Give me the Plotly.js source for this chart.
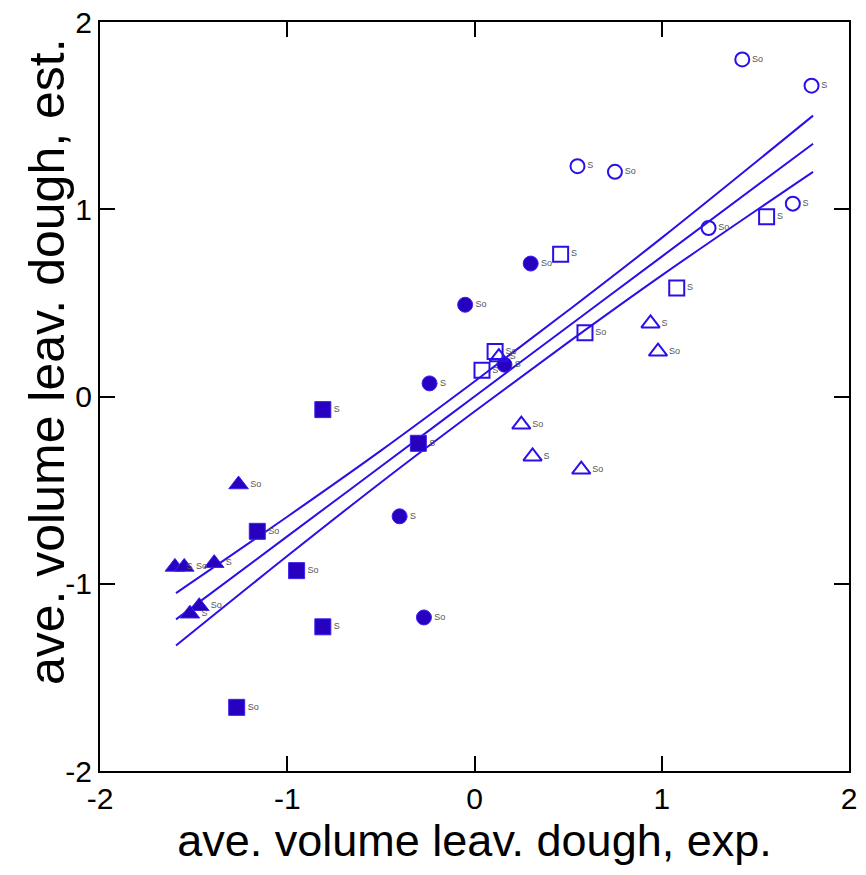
<!DOCTYPE html>
<html>
<head>
<meta charset="utf-8">
<script src="https://cdn.plot.ly/plotly-3.0.1.min.js"></script>
<style>html,body{margin:0;padding:0;background:#fff;}#chart{width:866px;height:875px;}</style>
</head>
<body>
<div id="chart"></div>
<script>
// filled circles
const fcX = [0.30, -0.05, -0.24, 0.16, -0.40, -0.27];
const fcY = [0.71, 0.49, 0.07, 0.17, -0.64, -1.18];
const fcL = ["So", "So", "S", "S", "S", "So"];
// filled squares
const fsX = [-0.81, -0.30, -1.16, -0.95, -0.81, -1.27];
const fsY = [-0.07, -0.25, -0.72, -0.93, -1.23, -1.66];
const fsL = ["S", "S", "So", "So", "S", "So"];
// filled triangles
const ftX = [-1.26, -1.60, -1.55, -1.39, -1.47, -1.52];
const ftY = [-0.47, -0.91, -0.91, -0.89, -1.12, -1.16];
const ftL = ["So", "S", "So", "S", "So", "S"];
// open squares
const osX = [0.46, 1.56, 1.08, 0.59, 0.11, 0.04];
const osY = [0.76, 0.96, 0.58, 0.34, 0.24, 0.14];
const osL = ["S", "S", "S", "So", "So", "S"];
// open triangles
const otX = [0.13, 0.94, 0.98, 0.25, 0.31, 0.57];
const otY = [0.21, 0.39, 0.24, -0.15, -0.32, -0.39];
const otL = ["S", "S", "So", "So", "S", "So"];
// open circles
const ocX = [1.43, 1.80, 0.55, 0.75, 1.25, 1.70];
const ocY = [1.80, 1.66, 1.23, 1.20, 0.90, 1.03];
const ocL = ["So", "S", "S", "So", "So", "S"];
// regression line and confidence bands
const lineX = [-1.594, -1.0, -0.5, 0.0, 0.5, 1.0, 1.808];
const fitY = [-1.19, -0.747, -0.374, 0.0, 0.374, 0.747, 1.35];
const upperY = [-1.05, -0.642, -0.289, 0.08, 0.459, 0.847, 1.50];
const lowerY = [-1.33, -0.852, -0.459, -0.08, 0.289, 0.647, 1.20];
// ticks
const tickVals = [-2, -1, 0, 1, 2];
const tickText = ["-2", "-1", "0", "1", "2"];
const xTitle = 'ave. volume leav. dough, exp.';
const yTitle = 'ave. volume leav. dough, est.';

const blue = '#2a10e8';
const dark = '#2800c0';
const fam = 'Liberation Sans, Arial, sans-serif';
const labelFont = {family: fam, size: 9, color: '#555555'};

function pts(x, y, t, symbol, filled, size) {
  return {
    x: x, y: y, text: t, type: 'scatter', mode: 'markers+text',
    textposition: 'middle right', textfont: labelFont, cliponaxis: false,
    marker: filled
      ? {symbol: symbol, size: size, color: dark, line: {color: '#3a20f0', width: 1}}
      : {symbol: symbol + '-open', size: size, color: blue, line: {color: blue, width: 2}},
    hoverinfo: 'x+y+text', showlegend: false
  };
}
function ln(y) {
  return {x: lineX, y: y, type: 'scatter', mode: 'lines', line: {color: blue, width: 2, shape: 'spline'}, showlegend: false, hoverinfo: 'skip'};
}

const data = [
  ln(upperY), ln(fitY), ln(lowerY),
  pts(fcX, fcY, fcL, 'circle', true, 15),
  pts(fsX, fsY, fsL, 'square', true, 16),
  pts(ftX, ftY, ftL, 'triangle-up', true, 17),
  pts(osX, osY, osL, 'square', false, 15),
  pts(otX, otY, otL, 'triangle-up', false, 16),
  pts(ocX, ocY, ocL, 'circle', false, 14)
];

const axisCommon = {
  range: [-2, 2], tickmode: 'array', tickvals: tickVals, ticktext: tickText,
  showgrid: false, zeroline: false,
  showline: true, linecolor: '#000', linewidth: 2, mirror: 'ticks',
  ticks: 'inside', ticklen: 15, tickwidth: 2, tickcolor: '#000',
  tickfont: {family: fam, size: 30, color: '#000'}
};

const layout = {
  width: 866, height: 875,
  margin: {l: 100, r: 17, t: 22, b: 104},
  paper_bgcolor: '#fff', plot_bgcolor: '#fff',
  xaxis: Object.assign({}, axisCommon, {
    title: {text: xTitle, font: {family: fam, size: 45, color: '#000'}, standoff: 8}
  }),
  yaxis: Object.assign({}, axisCommon, {title: {text: ''}}),
  annotations: [{
    text: yTitle, xref: 'paper', yref: 'paper', x: -0.071, y: 0.547,
    xanchor: 'center', yanchor: 'middle', textangle: -90, showarrow: false,
    font: {family: fam, size: 50, color: '#000'}
  }],
  showlegend: false
};

Plotly.newPlot('chart', data, layout, {displayModeBar: false, staticPlot: true});
</script>
</body>
</html>
